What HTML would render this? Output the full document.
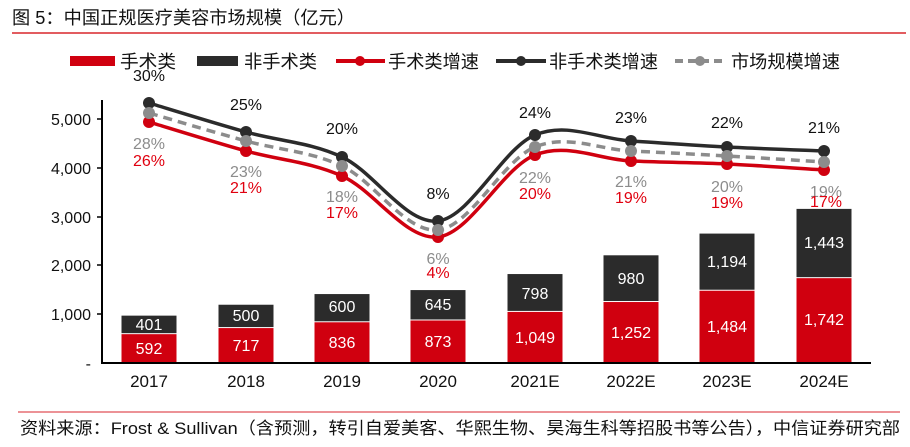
<!DOCTYPE html>
<html><head><meta charset="utf-8"><style>
html,body{margin:0;padding:0;background:#fff;}
svg{display:block;font-family:"Liberation Sans","Noto Sans CJK SC",sans-serif;}
</style></head><body>
<svg id="c" width="910" height="447" viewBox="0 0 910 447" xmlns="http://www.w3.org/2000/svg">
<text x="12" y="24" font-size="18" fill="#111" textLength="343" lengthAdjust="spacingAndGlyphs">图 5：中国正规医疗美容市场规模（亿元）</text>
<line x1="12" y1="33" x2="906" y2="33" stroke="#d9262c" stroke-width="1.5"/>
<!-- legend -->
<rect x="70" y="56" width="45" height="10" fill="#d0000f"/>
<text x="120" y="68" font-size="18" fill="#111" textLength="56" lengthAdjust="spacingAndGlyphs">手术类</text>
<rect x="197" y="56" width="41" height="10" fill="#2b2b2b"/>
<text x="244" y="68" font-size="18" fill="#111" textLength="73" lengthAdjust="spacingAndGlyphs">非手术类</text>
<line x1="336" y1="61" x2="385" y2="61" stroke="#d0000f" stroke-width="4"/><circle cx="360" cy="61" r="5" fill="#d0000f"/>
<text x="388" y="68" font-size="18" fill="#111" textLength="91" lengthAdjust="spacingAndGlyphs">手术类增速</text>
<line x1="496" y1="61" x2="546" y2="61" stroke="#2b2b2b" stroke-width="4"/><circle cx="521" cy="61" r="5" fill="#2b2b2b"/>
<text x="549" y="68" font-size="18" fill="#111" textLength="109" lengthAdjust="spacingAndGlyphs">非手术类增速</text>
<line x1="675" y1="61" x2="725" y2="61" stroke="#8c8c8c" stroke-width="4" stroke-dasharray="8,5"/><circle cx="700" cy="61" r="5" fill="#8c8c8c"/>
<text x="731" y="68" font-size="18" fill="#111" textLength="109" lengthAdjust="spacingAndGlyphs">市场规模增速</text>
<!-- y axis -->
<line x1="102" y1="100" x2="102" y2="364" stroke="#000" stroke-width="2"/>
<g stroke="#000" stroke-width="1.5">
<line x1="97" y1="119" x2="102" y2="119"/><line x1="97" y1="168" x2="102" y2="168"/><line x1="97" y1="217" x2="102" y2="217"/><line x1="97" y1="265" x2="102" y2="265"/><line x1="97" y1="314" x2="102" y2="314"/>
</g>
<g font-size="16" fill="#111" text-anchor="end">
<text x="91" y="125">5,000</text><text x="91" y="174">4,000</text><text x="91" y="223">3,000</text><text x="91" y="271">2,000</text><text x="91" y="320">1,000</text><text x="91" y="369">-</text>
</g>
<g id="bars"></g>
<line x1="101" y1="363" x2="871" y2="363" stroke="#000" stroke-width="2"/>
<g font-size="17" fill="#111" text-anchor="middle">
<text x="149" y="387">2017</text><text x="246" y="387">2018</text><text x="342" y="387">2019</text><text x="438" y="387">2020</text><text x="535" y="387">2021E</text><text x="631" y="387">2022E</text><text x="727" y="387">2023E</text><text x="824" y="387">2024E</text>
</g>
<g font-size="16" fill="#fff" text-anchor="middle">
<text x="149" y="354">592</text><text x="149" y="330">401</text>
<text x="246" y="351">717</text><text x="246" y="321">500</text>
<text x="342" y="348">836</text><text x="342" y="312">600</text>
<text x="438" y="347">873</text><text x="438" y="310">645</text>
<text x="535" y="343">1,049</text><text x="535" y="299">798</text>
<text x="631" y="338">1,252</text><text x="631" y="284">980</text>
<text x="727" y="332">1,484</text><text x="727" y="267">1,194</text>
<text x="824" y="325">1,742</text><text x="824" y="248">1,443</text>
</g>
<g id="lines"></g>
<g font-size="16" fill="#111" text-anchor="middle">
<text x="149" y="81">30%</text><text x="246" y="110">25%</text><text x="342" y="134">20%</text><text x="438" y="199">8%</text><text x="535" y="118">24%</text><text x="631" y="123">23%</text><text x="727" y="128">22%</text><text x="824" y="133">21%</text>
</g>
<g font-size="16" fill="#8c8c8c" text-anchor="middle">
<text x="149" y="149">28%</text><text x="246" y="177">23%</text><text x="342" y="202">18%</text><text x="438" y="264">6%</text><text x="535" y="183">22%</text><text x="631" y="187">21%</text><text x="727" y="192">20%</text><text x="826" y="197">19%</text>
</g>
<g font-size="16" fill="#e0000f" text-anchor="middle">
<text x="149" y="166">26%</text><text x="246" y="193">21%</text><text x="342" y="218">17%</text><text x="438" y="278">4%</text><text x="535" y="199">20%</text><text x="631" y="203">19%</text><text x="727" y="208">19%</text><text x="826" y="207">17%</text>
</g>
<line x1="18" y1="412" x2="900" y2="412" stroke="#d9262c" stroke-width="1"/>
<text x="20" y="434" font-size="17" fill="#111" textLength="880" lengthAdjust="spacingAndGlyphs">资料来源：Frost &amp; Sullivan（含预测，转引自爱美客、华熙生物、昊海生科等招股书等公告），中信证券研究部</text>
</svg>
<script>
var ns="http://www.w3.org/2000/svg";
var xs=[149,246,342,438,535,631,727,824];
var sur=[592,717,836,873,1049,1252,1484,1742],non=[401,500,600,645,798,980,1194,1443];
var k=0.0487,b0=363,bw=55,bg=document.getElementById('bars');
function rect(x,y,w,h,f){var r=document.createElementNS(ns,'rect');r.setAttribute('x',x);r.setAttribute('y',y);r.setAttribute('width',w);r.setAttribute('height',h);r.setAttribute('fill',f);return r;}
for(var i=0;i<8;i++){var h1=sur[i]*k,h2=non[i]*k;
bg.appendChild(rect(xs[i]-bw/2,b0-h1,bw,h1,'#d0000f'));
bg.appendChild(rect(xs[i]-bw/2,b0-h1-h2+1,bw,h2-2,'#2b2b2b'));}
function path(ys){var p=xs.map(function(x,i){return[x,ys[i]]});var d='M'+p[0][0]+','+p[0][1];
for(var i=0;i<p.length-1;i++){var p0=p[i-1]||p[i],p1=p[i],p2=p[i+1],p3=p[i+2]||p2;var t=6;
d+=' C'+(p1[0]+(p2[0]-p0[0])/t)+','+(p1[1]+(p2[1]-p0[1])/t)+' '+(p2[0]-(p3[0]-p1[0])/t)+','+(p2[1]-(p3[1]-p1[1])/t)+' '+p2[0]+','+p2[1];}return d;}
var lg=document.getElementById('lines');
function series(ys,col,dash){var pa=document.createElementNS(ns,'path');pa.setAttribute('d',path(ys));pa.setAttribute('fill','none');pa.setAttribute('stroke',col);pa.setAttribute('stroke-width','3.5');if(dash)pa.setAttribute('stroke-dasharray','9,6');
var g=document.createElementNS(ns,'g');g.appendChild(pa);
ys.forEach(function(y,i){var c=document.createElementNS(ns,'circle');c.setAttribute('cx',xs[i]);c.setAttribute('cy',y);c.setAttribute('r',6);c.setAttribute('fill',col);g.appendChild(c);});return g;}
var gB=series([103,132,157,221,135,141,147,151],'#2b2b2b');
var gR=series([122,151,176,237,155,161,164,170],'#d0000f');
var gG=series([113,141,166,230,147,151,156,162],'#8c8c8c',true);
lg.appendChild(gR);lg.appendChild(gB);lg.appendChild(gG);
</script>
</body></html>
